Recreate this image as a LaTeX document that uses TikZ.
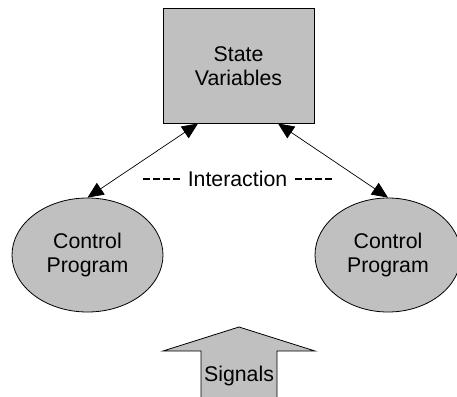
\documentclass[tikz,border=0pt]{standalone}
\usepackage{fontspec}
\setmainfont{Liberation Sans}
\usetikzlibrary{arrows.meta,shapes.geometric}
\definecolor{shapegray}{HTML}{C0C0C0}
\tikzset{
  lbl/.style={font=\fontsize{21.3}{24}\selectfont, align=center},
  statebox/.style={lbl, draw=black, line width=1pt, fill=shapegray, rectangle, minimum width=151pt, minimum height=114pt, inner sep=0pt},
  prog/.style={lbl, draw=black, line width=0.8pt, fill=shapegray, ellipse, inner sep=0pt},
  link/.style={line width=0.7pt, {Triangle[length=16pt,width=14pt]}-{Triangle[length=16pt,width=14pt]}},
  dash line/.style={line width=1.2pt, dash pattern=on 6.5pt off 3.5pt, dash phase=6.5pt}
}
\begin{document}
\begin{tikzpicture}[x=1pt,y=-1pt]
\useasboundingbox (0,0) rectangle (457,396);
\node[statebox] (sv) at (238.5,66) {State\\Variables};
\node[prog, minimum width=151pt, minimum height=114pt] (cl) at (87.5,255) {Control\\Program};
\node[prog, minimum width=146pt, minimum height=114pt] (cr) at (388,255) {Control\\Program};
\draw[link] ([xshift=-40.5pt]sv.south) -- (cl.north);
\draw[link] ([xshift=39.5pt]sv.south) -- (cr.north);
\node[lbl, inner sep=4.2pt] (int) at (237.5,179) {Interaction};
\coordinate (dl) at (143,179);
\coordinate (dr) at (333,179);
\draw[dash line] (int.west) -- (dl);
\draw[dash line] (int.east) -- (dr);
\draw[line width=0.8pt, fill=shapegray] (239,327) -- (315,351) -- (277,351) -- (277,400) -- (201,400) -- (201,351) -- (163,351) -- cycle;
\node[lbl, inner sep=0pt] (sig) at (239,376) {Signals};
\end{tikzpicture}
\end{document}
